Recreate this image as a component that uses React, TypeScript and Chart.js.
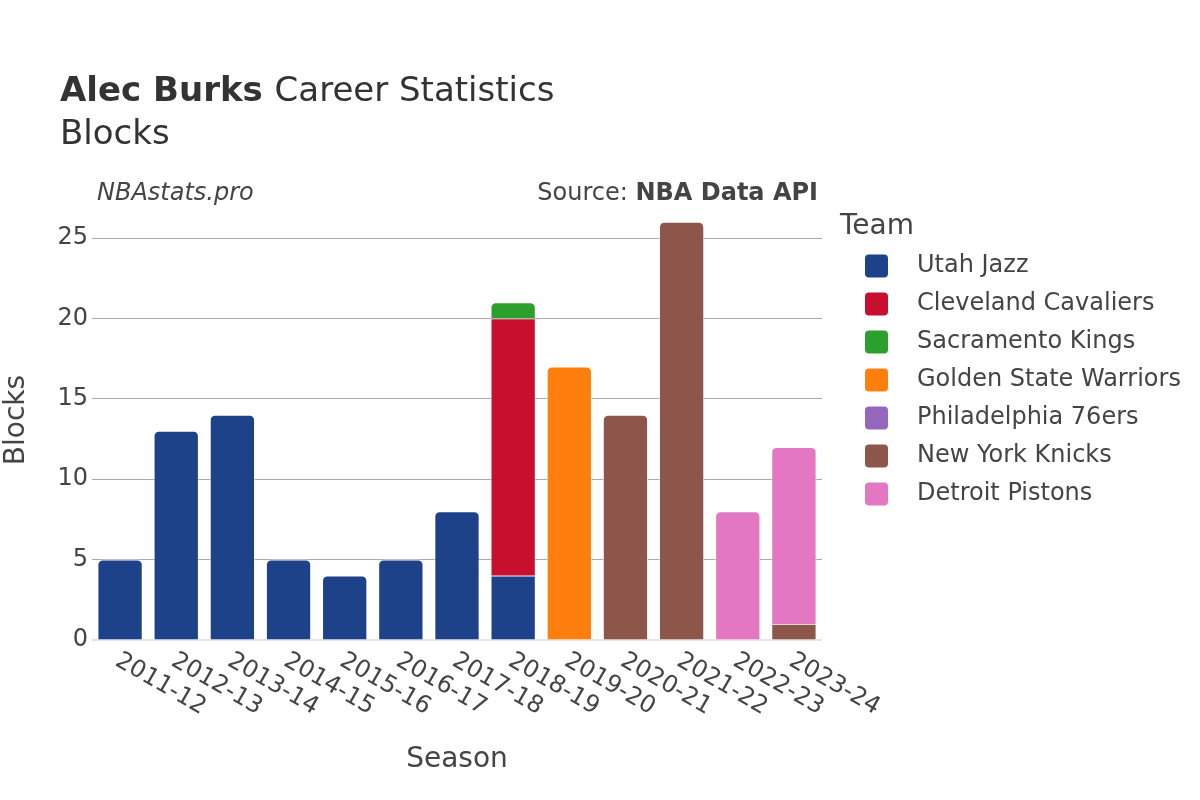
import React, { useEffect, useRef } from "react";
import { Chart, registerables } from "chart.js";

Chart.register(...registerables);

const seasons = ["2011-12", "2012-13", "2013-14", "2014-15", "2015-16", "2016-17", "2017-18", "2018-19", "2019-20", "2020-21", "2021-22", "2022-23", "2023-24"];
const teams = ["Utah Jazz", "Cleveland Cavaliers", "Sacramento Kings", "Golden State Warriors", "Philadelphia 76ers", "New York Knicks", "Detroit Pistons"];
const teamColors = ["#1d428a", "#c8102e", "#2ca02c", "#ff7f0e", "#9467bd", "#8c564b", "#e377c2"];
const utahJazz = [5, 13, 14, 5, 4, 5, 8, 4, 0, 0, 0, 0, 0];
const clevelandCavaliers = [0, 0, 0, 0, 0, 0, 0, 16, 0, 0, 0, 0, 0];
const sacramentoKings = [0, 0, 0, 0, 0, 0, 0, 1, 0, 0, 0, 0, 0];
const goldenStateWarriors = [0, 0, 0, 0, 0, 0, 0, 0, 17, 0, 0, 0, 0];
const philadelphia76ers = [0, 0, 0, 0, 0, 0, 0, 0, 0, 0, 0, 0, 0];
const newYorkKnicks = [0, 0, 0, 0, 0, 0, 0, 0, 0, 14, 26, 0, 1];
const detroitPistons = [0, 0, 0, 0, 0, 0, 0, 0, 0, 0, 0, 8, 11];
const yTicks = [0, 5, 10, 15, 20, 25];

const seriesValues = [utahJazz, clevelandCavaliers, sacramentoKings, goldenStateWarriors, philadelphia76ers, newYorkKnicks, detroitPistons];

const FONT = '"DejaVu Sans", "Noto Sans", sans-serif';

function isTopSegment(dsIndex: number, idx: number): boolean {
  for (let k = dsIndex + 1; k < seriesValues.length; k++) {
    if (seriesValues[k][idx] > 0) return false;
  }
  return seriesValues[dsIndex][idx] > 0;
}

const overlayPlugin = {
  id: "overlay",
  beforeDatasetsDraw(chart: any) {
    const { ctx, chartArea, scales } = chart;
    const y0 = scales.y.getPixelForValue(0);
    ctx.save();
    ctx.strokeStyle = "#e6e6e6";
    ctx.lineWidth = 2;
    ctx.beginPath();
    ctx.moveTo(chartArea.left, y0);
    ctx.lineTo(chartArea.right, y0);
    ctx.stroke();
    ctx.restore();
  },
  afterDraw(chart: any) {
    const { ctx, chartArea, scales } = chart;
    ctx.save();
    // Title
    ctx.fillStyle = "#333";
    ctx.textBaseline = "alphabetic";
    ctx.textAlign = "left";
    ctx.font = `bold 34px ${FONT}`;
    const boldPart = "Alec Burks";
    ctx.fillText(boldPart, 60, 101);
    const bw = ctx.measureText(boldPart + " ").width;
    ctx.font = `34px ${FONT}`;
    ctx.fillText("Career Statistics", 60 + bw, 101);
    ctx.fillText("Blocks", 60, 144);

    // annotations
    ctx.fillStyle = "#444";
    ctx.font = `italic 24px ${FONT}`;
    ctx.fillText("NBAstats.pro", 97, 200);
    ctx.textAlign = "right";
    ctx.font = `bold 24px ${FONT}`;
    const src2 = "NBA Data API";
    ctx.fillText(src2, 818, 200);
    const w2 = ctx.measureText(src2).width;
    ctx.font = `24px ${FONT}`;
    ctx.fillText("Source: ", 818 - w2, 200);

    // x tick labels
    ctx.textAlign = "left";
    ctx.textBaseline = "middle";
    ctx.font = `24px ${FONT}`;
    seasons.forEach((s, i) => {
      const x = scales.x.getPixelForValue(i);
      ctx.save();
      ctx.translate(x - 3, 659);
      ctx.rotate(Math.PI / 6);
      ctx.fillText(s, 0, 0);
      ctx.restore();
    });

    // axis titles
    ctx.textAlign = "center";
    ctx.font = `28px ${FONT}`;
    ctx.fillText("Season", (chartArea.left + chartArea.right) / 2, 760);
    ctx.save();
    ctx.translate(17, 420);
    ctx.rotate(-Math.PI / 2);
    ctx.fillText("Blocks", 0, 0);
    ctx.restore();

    // legend
    ctx.textAlign = "left";
    ctx.font = `28px ${FONT}`;
    ctx.fillText("Team", 840, 227);
    ctx.font = `24px ${FONT}`;
    teams.forEach((t, i) => {
      const cy = 266 + i * 38;
      ctx.fillStyle = teamColors[i];
      ctx.beginPath();
      (ctx as any).roundRect(865, cy - 11.5, 23, 23, 4);
      ctx.fill();
      ctx.fillStyle = "#444";
      ctx.fillText(t, 917, cy);
    });
    ctx.restore();
  },
};

export default function App() {
  const canvasRef = useRef<HTMLCanvasElement | null>(null);

  useEffect(() => {
    const canvas = canvasRef.current;
    if (!canvas) return;
    const chart = new Chart(canvas, {
      type: "bar",
      data: {
        labels: seasons,
        datasets: teams.map((t, i) => ({
          label: t,
          data: seriesValues[i],
          backgroundColor: teamColors[i],
          borderColor: "rgba(255,255,255,0.9)",
          borderWidth: 0.8,
          borderSkipped: "bottom",
          borderRadius: (c: any) =>
            isTopSegment(c.datasetIndex, c.dataIndex)
              ? { topLeft: 5, topRight: 5, bottomLeft: 0, bottomRight: 0 }
              : 0,
          barPercentage: 0.8,
          categoryPercentage: 1,
        })),
      },
      options: {
        responsive: false,
        animation: false,
        devicePixelRatio: 1,
        layout: { padding: { left: 0, top: 200, right: 378, bottom: 0 } },
        plugins: {
          legend: { display: false },
          title: { display: false },
          tooltip: { enabled: false },
        },
        scales: {
          x: {
            stacked: true,
            grid: { display: false, drawTicks: false },
            border: { display: false },
            ticks: { display: false },
            afterFit: (scale: any) => {
              scale.height = 160;
            },
          },
          y: {
            stacked: true,
            min: 0,
            max: 27.37,
            afterBuildTicks: (scale: any) => {
              scale.ticks = yTicks.map((v) => ({ value: v }));
            },
            afterFit: (scale: any) => {
              scale.width = 92;
            },
            grid: {
              drawTicks: false,
              color: (c: any) => (c.tick && c.tick.value === 0 ? "rgba(0,0,0,0)" : "#aaaaaa"),
              lineWidth: 1,
            },
            border: { display: false },
            ticks: {
              padding: 4,
              color: "#444",
              font: { family: FONT, size: 24 },
            },
          },
        },
      },
      plugins: [overlayPlugin],
    });
    return () => chart.destroy();
  }, []);

  return (
    <div style={{ position: "fixed", left: 0, top: 0, width: 1200, height: 800, background: "#fff" }}>
      <canvas ref={canvasRef} width={1200} height={800} style={{ width: 1200, height: 800, display: "block" }} />
    </div>
  );
}
